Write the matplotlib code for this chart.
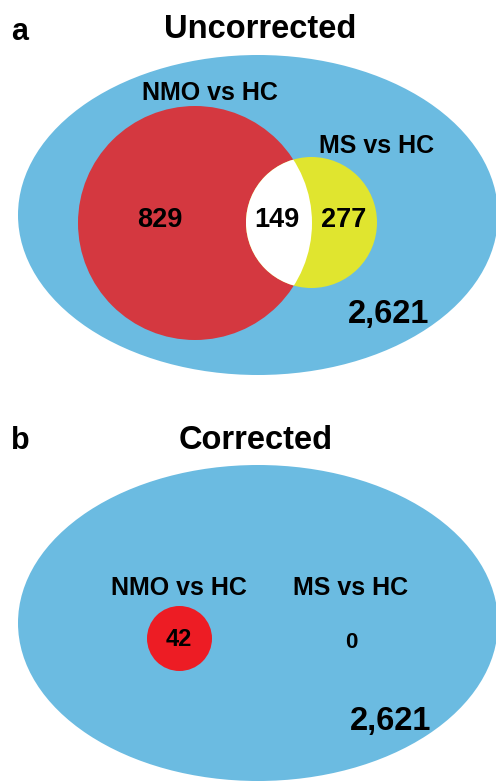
import matplotlib
matplotlib.use('Agg')
import matplotlib.pyplot as plt
from matplotlib.patches import Circle, Ellipse

plt.rcParams['font.family'] = ['Liberation Sans', 'DejaVu Sans']

# data
panels = ['a', 'b']
titles = ['Uncorrected', 'Corrected']
groups = ['NMO vs HC', 'MS vs HC']
uncorrected = {'nmo_only': 829, 'both': 149, 'ms_only': 277}
corrected = [42, 0]
total = 2621

blue = '#6bbbe1'
red_a = '#d43840'
yellow = '#e0e52f'
red_b = '#ed1c24'

fig = plt.figure(figsize=(4.96, 7.81), dpi=100)
ax = fig.add_axes([0, 0, 1, 1])
ax.set_xlim(0, 496)
ax.set_ylim(781, 0)
ax.set_aspect('equal')
ax.axis('off')


def txt(x, y, s, fs, ha='center'):
    ax.text(x, y, s, fontsize=fs, fontweight='bold', ha=ha, va='baseline')


# ---- panel a
txt(11, 40, panels[0], 22, ha='left')
txt(260, 38, titles[0], 23.5)
ax.add_patch(Ellipse((258, 215), 480, 320, color=blue, lw=0))
red = Circle((195, 223), 117, color=red_a, lw=0)
ax.add_patch(red)
yel = Circle((311.5, 222.5), 65.5, color=yellow, lw=0)
ax.add_patch(yel)
inter = Circle((311.5, 222.5), 65.5, color='white', lw=0)
ax.add_patch(inter)
inter.set_clip_path(red)
txt(210, 100, groups[0], 18)
txt(377, 153, groups[1], 18)
txt(160, 227, str(uncorrected['nmo_only']), 19.5)
txt(277, 227, str(uncorrected['both']), 19.5)
txt(344, 227, str(uncorrected['ms_only']), 19.5)
txt(389, 323, f'{total:,}', 23.5)

# ---- panel b
txt(11, 449, panels[1], 22, ha='left')
txt(256, 449, titles[1], 23.5)
ax.add_patch(Ellipse((258, 623), 480, 316, color=blue, lw=0))
ax.add_patch(Circle((179.5, 638.5), 32.5, color=red_b, lw=0))
txt(179, 595, groups[0], 18)
txt(351, 595, groups[1], 18)
txt(179, 646, str(corrected[0]), 17)
txt(351, 648, str(corrected[1]), 16)
txt(391, 730, f'{total:,}', 23.5)

fig.savefig('out.png', dpi=100)
